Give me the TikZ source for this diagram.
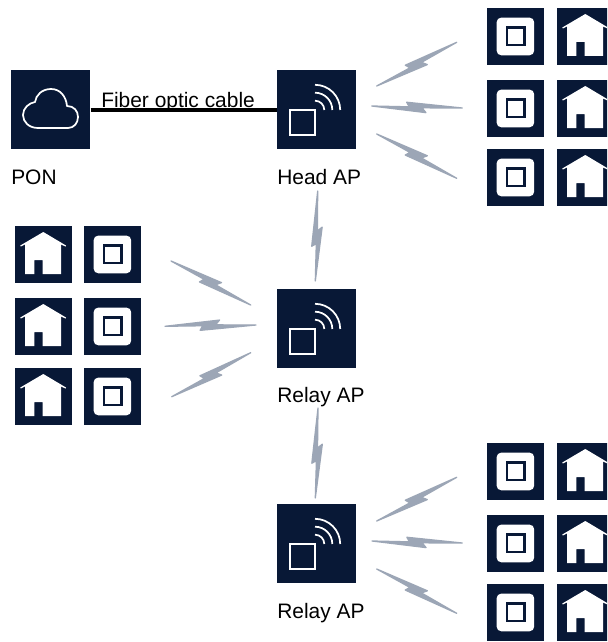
\documentclass[tikz,border=0pt]{standalone}
\usepackage{fontspec}
\setmainfont{Liberation Sans}
\usetikzlibrary{calc}
\definecolor{navy}{HTML}{081836}
\definecolor{boltgrey}{HTML}{9CA6B6}
\tikzset{
  bigbox/.style={fill=navy,draw=none,minimum size=59.25pt,inner sep=0pt,anchor=north west},
  smallbox/.style={fill=navy,draw=none,minimum size=42.75pt,inner sep=0pt,anchor=north west},
  iconline/.style={draw=white,line width=1.3pt},
  label/.style={font=\fontsize{15.7}{18}\selectfont,text=black,inner sep=0pt,anchor=base west},
  boltshape/.style={fill=boltgrey,draw=boltgrey,line width=0.95pt,line join=round},
  fiber/.style={draw=black,line width=3pt},
  pics/cloudicon/.style={code={
    \node[bigbox] (-box) at (0,0) {};
    \draw[iconline,line join=round] (27,58) .. controls (18,58) and (12,52) .. (12,45)
      .. controls (12,38) and (18,33) .. (24,32)
      .. controls (25,25) and (31,19) .. (40,19)
      .. controls (49,19) and (55,26) .. (56,36)
      .. controls (63,36) and (67,41) .. (67,47)
      .. controls (67,53) and (63,58) .. (57,58) -- cycle;
  }},
  pics/apicon/.style={code={
    \node[bigbox] (-box) at (0,0) {};
    \draw[iconline] (13.2,40.2) rectangle (38.1,65.1);
    \draw[iconline] (38,14.8) arc[start angle=-90,end angle=0,radius=25.2];
    \draw[iconline] (38,22.7) arc[start angle=-90,end angle=0,radius=17.3];
    \draw[iconline] (38,30.7) arc[start angle=-90,end angle=0,radius=9.3];
  }},
  pics/routericon/.style={code={
    \node[smallbox] (-box) at (0,0) {};
    \fill[white,rounded corners=3.5pt] (9.6,9.6) rectangle (47.2,47.3);
    \draw[draw=navy,line width=1.7pt] (19.7,19.4) rectangle (37.5,37.2);
  }},
  pics/houseicon/.style={code={
    \node[smallbox] (-box) at (0,0) {};
    \fill[white] (28.3,6) -- (51,19.5) -- (50.5,20.5) -- (46,18.5) -- (46,48) -- (27.5,48) -- (27.5,34) -- (19.3,34) -- (19.3,48) -- (10,48) -- (10,18.5) -- (5.8,20.5) -- (5.3,19.5) -- cycle;
  }},
}
% name, from, to, side (1 or -1: which way the flash is mirrored)
\newcommand{\flash}[4]{%
  \coordinate (#1-a) at (#2);
  \coordinate (#1-b) at (#3);
  \ifnum#4=1
  \fill[boltshape] (#1-a)
    -- ($(#1-a)!.415!(#1-b)$)
    -- ($(#1-a)!.385!(#1-b)+(#1-a)!.05!90:(#1-b)-(#1-a)$)
    -- (#1-b)
    -- ($(#1-a)!.555!(#1-b)+(#1-a)!-.008!90:(#1-b)-(#1-a)$)
    -- ($(#1-a)!.60!(#1-b)+(#1-a)!-.06!90:(#1-b)-(#1-a)$)
    -- cycle;
  \else
  \fill[boltshape] (#1-a)
    -- ($(#1-a)!.415!(#1-b)$)
    -- ($(#1-a)!.385!(#1-b)+(#1-a)!-.05!90:(#1-b)-(#1-a)$)
    -- (#1-b)
    -- ($(#1-a)!.555!(#1-b)+(#1-a)!.008!90:(#1-b)-(#1-a)$)
    -- ($(#1-a)!.60!(#1-b)+(#1-a)!.06!90:(#1-b)-(#1-a)$)
    -- cycle;
  \fi
}
\begin{document}
\begin{tikzpicture}[x=0.75pt,y=-0.75pt]
\useasboundingbox (0,0) rectangle (607,642);
\clip (0,0) rectangle (607,642);
\fill[white] (0,0) rectangle (607,642);
% main devices
\pic (pon) at (11,70) {cloudicon};
\pic (head) at (277,70) {apicon};
\pic (relayA) at (277,289) {apicon};
\pic (relayB) at (277,504) {apicon};
% fibre
\draw[fiber] (pon-box.east) -- (head-box.west);
\node[label] (fibertext) at (101,108) {Fiber optic cable};
% labels
\node[label] (ponlabel) at (11,184) {PON};
\node[label] (headlabel) at (277,184) {Head AP};
\node[label] (relayAlabel) at (277,402) {Relay AP};
\node[label] (relayBlabel) at (277,618) {Relay AP};
% terminals: upper right
\pic (r1) at (487,8) {routericon};   \pic (h1) at (557,8) {houseicon};
\pic (r2) at (487,80) {routericon};  \pic (h2) at (557,80) {houseicon};
\pic (r3) at (487,149) {routericon}; \pic (h3) at (557,149) {houseicon};
% terminals: left
\pic (h4) at (15,226) {houseicon};  \pic (r4) at (84,226) {routericon};
\pic (h5) at (15,298) {houseicon};  \pic (r5) at (84,298) {routericon};
\pic (h6) at (15,368) {houseicon};  \pic (r6) at (84,368) {routericon};
% terminals: lower right
\pic (r7) at (487,443) {routericon}; \pic (h7) at (557,443) {houseicon};
\pic (r8) at (487,515) {routericon}; \pic (h8) at (557,515) {houseicon};
\pic (r9) at (487,584) {routericon}; \pic (h9) at (557,584) {houseicon};
% wireless flashes
\flash{f1}{376.7,86}{456.7,42.3}{1}
\flash{f2}{371.7,106}{462.3,108}{1}
\flash{f3}{376.7,134}{456.7,178.3}{-1}
\flash{f4}{315.3,281}{317.7,191}{1}
\flash{f5}{171,261}{250.7,305}{-1}
\flash{f6}{165,326.3}{256,325}{-1}
\flash{f7}{171.7,396.7}{250.7,352.7}{1}
\flash{f8}{315.3,498}{318,408}{1}
\flash{f9}{376.7,521}{456.7,477.3}{1}
\flash{f10}{372,541}{462.3,543}{1}
\flash{f11}{376.7,569}{456.7,613.3}{-1}
\end{tikzpicture}
\end{document}
